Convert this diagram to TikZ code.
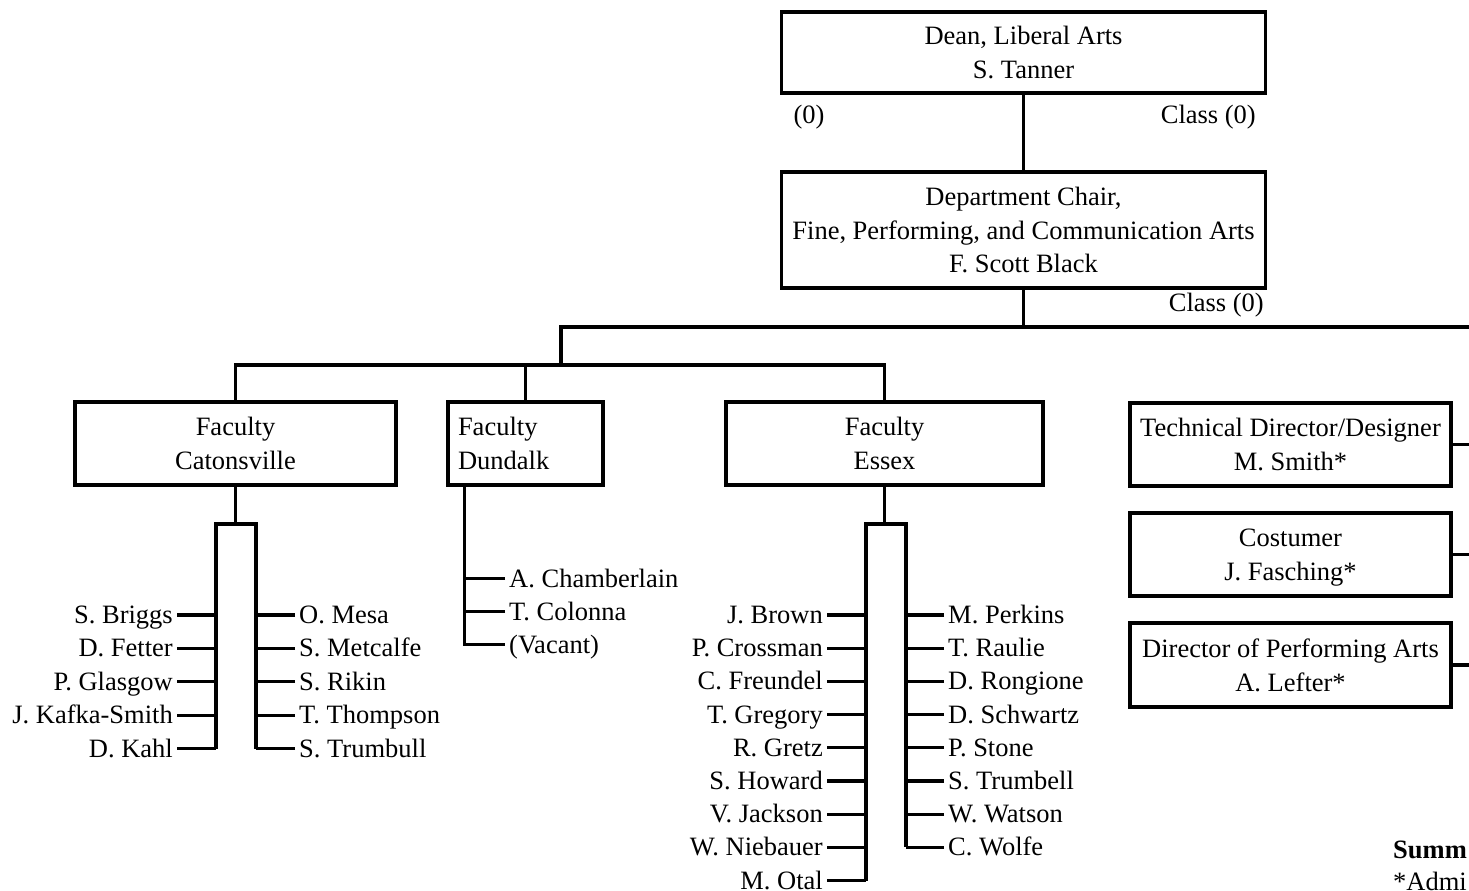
\documentclass[tikz,border=0pt]{standalone}
\usepackage{fontspec}
\setmainfont{Liberation Serif}
\begin{document}
\begin{tikzpicture}[x=1pt,y=-1pt,
  every node/.style={font=\fontsize{26.5}{33.5}\selectfont},
  ln/.style={line width=3.2pt},
  box/.style={draw, line width=3.2pt, inner sep=0pt, align=center, text depth=0pt},
  nm/.style={inner xsep=4pt, inner ysep=0pt, text height=17pt, text depth=0pt},
  lbl/.style={inner sep=0pt}]
\useasboundingbox (0,0) rectangle (1469,891);
\coordinate (rEdge) at (1469,0);
% top boxes
\node[box, minimum width=484pt, minimum height=81pt] (dean) at (1023.5,52.5) {Dean, Liberal Arts\\S. Tanner};
\node[box, minimum width=484pt, minimum height=116pt] (dept) at (1023.5,230) {Department Chair,\\Fine, Performing, and Communication Arts\\F. Scott Black};
\node[lbl] (d0) at (809,117) {(0)};
\node[lbl, anchor=east] (dc) at (1256,117) {Class (0)};
\node[lbl, anchor=east] (pc) at (1264,305) {Class (0)};
\draw[ln] (dean.south) -- (dept.north);
% bus
\coordinate (bus) at (1023.5,327);
\coordinate (busL) at (561,327);
\coordinate (fac) at (561,365);
\draw[ln] (dept.south) -- (bus);
\draw[ln] (rEdge |- bus) -- (busL) -- (fac);
% faculty boxes
\node[box, minimum width=321pt, minimum height=83pt] (cat) at (235.5,443.5) {Faculty\\Catonsville};
\node[box, align=left, text width=135pt, text depth=, minimum width=155pt, minimum height=83pt] (dun) at (525.5,443.5) {Faculty\\Dundalk};
\node[box, minimum width=317pt, minimum height=83pt] (ess) at (884.5,443.5) {Faculty\\Essex};
\draw[ln] (cat.north) |- (ess.north |- fac) -- (ess.north);
\draw[ln] (dun.north) -- (dun.north |- fac);
% staff boxes
\node[box, minimum width=321pt, minimum height=83pt] (tech) at (1290.5,444.5) {Technical Director/Designer\\M. Smith*};
\node[box, minimum width=321pt, minimum height=83pt] (cost) at (1290.5,554.5) {Costumer\\J. Fasching*};
\node[box, minimum width=321pt, minimum height=84pt] (dir) at (1290.5,665) {Director of Performing Arts\\A. Lefter*};
\foreach \b in {tech,cost,dir} \draw[ln] (\b.east) -- (\b.east -| rEdge);
% Catonsville list
\coordinate (cLx) at (216,524);
\coordinate (cRx) at (256,524);
\foreach \t [count=\i] in {S. Briggs, D. Fetter, P. Glasgow, J. Kafka-Smith, D. Kahl}
  \node[nm, anchor=east] (cl\i) at (177,{615+33.4*(\i-1)}) {\t};
\foreach \t [count=\i] in {O. Mesa, S. Metcalfe, S. Rikin, T. Thompson, S. Trumbull}
  \node[nm, anchor=west] (cr\i) at (295,{615+33.4*(\i-1)}) {\t};
\draw[ln] (cat.south) -- (cat.south |- cLx);
\draw[ln] (cl5.east -| cLx) -- (cLx) -- (cRx) -- (cr5.west -| cRx);
\foreach \i in {1,...,5} {
  \draw[ln] (cl\i.east) -- (cl\i.east -| cLx);
  \draw[ln] (cr\i.west) -- (cr\i.west -| cRx);
}
% Dundalk list
\coordinate (dJ) at ([xshift=18pt]dun.south west);
\foreach \t [count=\i] in {A. Chamberlain, T. Colonna, (Vacant)}
  \node[nm, anchor=west] (dn\i) at (505,{578.8+33*(\i-1)}) {\t};
\draw[ln] (dJ) |- (dn3.west);
\foreach \i in {1,2} \draw[ln] (dn\i.west) -- (dn\i.west -| dJ);
% Essex list
\coordinate (eLx) at (866,524);
\coordinate (eRx) at (906,524);
\foreach \t [count=\i] in {J. Brown, P. Crossman, C. Freundel, T. Gregory, R. Gretz, S. Howard, V. Jackson, W. Niebauer, M. Otal}
  \node[nm, anchor=east] (el\i) at (827,{615+33.2*(\i-1)}) {\t};
\foreach \t [count=\i] in {M. Perkins, T. Raulie, D. Rongione, D. Schwartz, P. Stone, S. Trumbell, W. Watson, C. Wolfe}
  \node[nm, anchor=west] (er\i) at (944,{615+33.2*(\i-1)}) {\t};
\draw[ln] (ess.south) -- (ess.south |- eLx);
\draw[ln] (el9.east -| eLx) -- (eLx) -- (eRx) -- (er8.west -| eRx);
\foreach \i in {1,...,9} \draw[ln] (el\i.east) -- (el\i.east -| eLx);
\foreach \i in {1,...,8} \draw[ln] (er\i.west) -- (er\i.west -| eRx);
% summary (cut at the right edge, as in the reference)
\node[lbl, anchor=west, font=\fontsize{26.5}{33.5}\selectfont\bfseries] (summ) at (1393,850) {Summ};
\node[lbl, anchor=west] (admi) at (1393,881) {*Admi};
\end{tikzpicture}
\end{document}
